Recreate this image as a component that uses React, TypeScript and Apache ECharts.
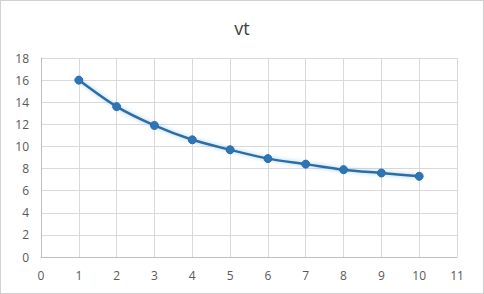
import React, { useEffect, useRef } from "react";
import * as echarts from "echarts";

const xValues = [1, 2, 3, 4, 5, 6, 7, 8, 9, 10];
const vtValues = [16.0, 13.6, 11.9, 10.6, 9.7, 8.9, 8.4, 7.9, 7.6, 7.3];
const chartTitle = "vt";

export default function App() {
  const ref = useRef<HTMLDivElement>(null);
  useEffect(() => {
    if (!ref.current) return;
    const chart = echarts.init(ref.current, null, { renderer: "svg" });
    const labelStyle = { color: "#595959", fontSize: 12, fontFamily: "Open Sans, Liberation Sans, sans-serif" };
    chart.setOption({
      animation: false,
      backgroundColor: "#ffffff",
      title: {
        text: chartTitle,
        left: "center",
        top: 13,
        textStyle: { color: "#404040", fontSize: 18, fontWeight: "normal", fontFamily: "Open Sans, Liberation Sans, sans-serif" },
      },
      grid: { left: 40, right: 26, top: 57, bottom: 36 },
      xAxis: {
        type: "value",
        min: 0,
        max: 11,
        interval: 1,
        axisLine: { show: true, lineStyle: { color: "#bfbfbf" } },
        axisTick: { show: false },
        axisLabel: { ...labelStyle, margin: 12 },
        splitLine: { show: true, lineStyle: { color: "#d9d9d9", width: 1 } },
      },
      yAxis: {
        type: "value",
        min: 0,
        max: 18,
        interval: 2,
        axisLine: { show: true, lineStyle: { color: "#bfbfbf" } },
        axisTick: { show: false },
        axisLabel: { ...labelStyle, margin: 12 },
        splitLine: { show: true, lineStyle: { color: "#d9d9d9", width: 1 } },
      },
      series: [
        {
          type: "line",
          smooth: 0.3,
          data: xValues.map((x, i) => [x, vtValues[i]]),
          symbol: "circle",
          symbolSize: 8,
          lineStyle: { color: "#2E6DA4", width: 2.5, shadowColor: "rgba(91,170,230,0.6)", shadowBlur: 4 },
          itemStyle: { color: "#2E75B6", borderColor: "#2B6CB0", borderWidth: 1 },
        },
      ],
    });
    return () => chart.dispose();
  }, []);
  return (
    <div
      style={{
        position: "fixed",
        left: 0,
        top: 0,
        width: 484,
        height: 294,
        boxSizing: "border-box",
        border: "1px solid #d0d0d0",
        background: "#fff",
      }}
    >
      <div ref={ref} style={{ width: 482, height: 292 }} />
    </div>
  );
}
